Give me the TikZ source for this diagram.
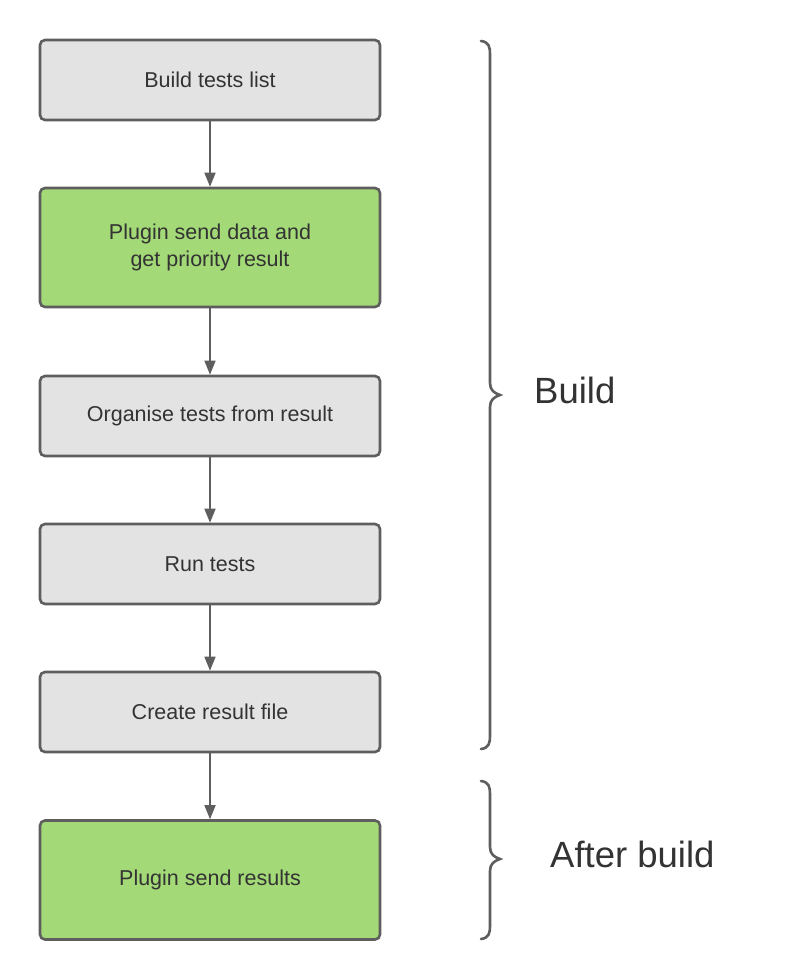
\documentclass[tikz,border=0pt]{standalone}
\usepackage{fontspec}
\setmainfont{Liberation Sans}
\usetikzlibrary{arrows.meta}
\definecolor{boxgray}{HTML}{E3E3E3}
\definecolor{boxgreen}{HTML}{A3D977}
\definecolor{edge}{HTML}{5E5E5E}
\definecolor{txt}{HTML}{333333}
\begin{document}
\begin{tikzpicture}[x=1pt,y=-1pt,
  stepbox/.style={draw=edge, line width=2.6pt, rounded corners=5pt, fill=boxgray,
    minimum width=340pt, minimum height=80pt, text=txt, align=center,
    font=\fontsize{21.5}{27}\selectfont, inner sep=0pt},
  greenbox/.style={stepbox, fill=boxgreen, minimum height=119pt},
  flow/.style={draw=edge, line width=1.6pt, -{Triangle[length=14pt,width=11pt]}},
  bracepath/.style={draw=edge, line width=2.6pt, line cap=round},
  biglabel/.style={text=txt, font=\fontsize{36.5}{40}\selectfont, inner sep=0pt}]
\fill[white] (0,0) rectangle (800,980);
\useasboundingbox (0,0) rectangle (800,980);
\node[stepbox] (b1) at (210,80) {Build tests list};
\node[greenbox] (b2) at (210,247.5) {Plugin send data and\\ get priority result};
\node[stepbox] (b3) at (210,416) {Organise tests from result};
\node[stepbox] (b4) at (210,564) {Run tests};
\node[stepbox] (b5) at (210,712) {Create result file};
\node[greenbox] (b6) at (210,880) {Plugin send results};
\draw[flow] (b1) -- (b2);
\draw[flow] (b2) -- (b3);
\draw[flow] (b3) -- (b4);
\draw[flow] (b4) -- (b5);
\draw[flow] (b5) -- (b6);
% braces
\coordinate (t1) at (481,41);
\coordinate (m1) at (500,395);
\coordinate (e1) at (481,749);
\draw[bracepath] (t1) .. controls (489,42) and (490,47) .. (490,54)
  -- (490,383) .. controls (490,390) and (494,393) .. (m1)
  .. controls (494,397) and (490,400) .. (490,407)
  -- (490,736) .. controls (490,743) and (489,748) .. (e1);
\coordinate (t2) at (481,781);
\coordinate (m2) at (500,859);
\coordinate (e2) at (481,939);
\draw[bracepath] (t2) .. controls (489,782) and (490,787) .. (490,794)
  -- (490,847) .. controls (490,854) and (494,857) .. (m2)
  .. controls (494,861) and (490,864) .. (490,871)
  -- (490,926) .. controls (490,933) and (489,938) .. (e2);
\node[biglabel, anchor=west] (lb) at (534,390) {Build};
\node[biglabel, anchor=west] (la) at (550,854) {After build};
\end{tikzpicture}
\end{document}
